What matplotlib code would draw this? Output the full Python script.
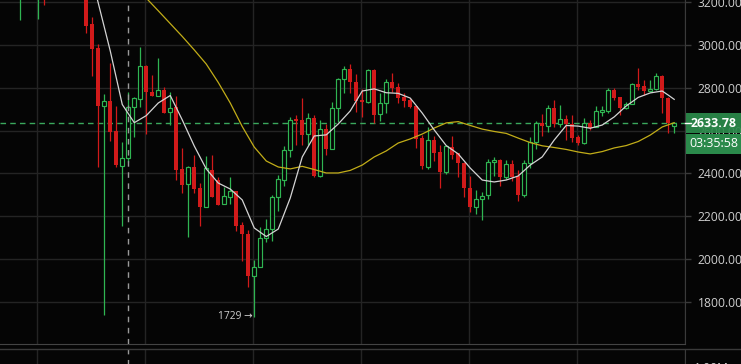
import numpy as np
import matplotlib
matplotlib.use("Agg")
import matplotlib.pyplot as plt
from matplotlib.patches import Rectangle
from matplotlib.lines import Line2D

# ---------------- data ----------------
opens = [3330, 3360, 3320, 3290, 3340, 3400, 3380, 3440, 3300, 3280, 3340, 3310, 3330, 3270,
         3250, 3098, 2986, 2716, 2738, 2598, 2436, 2471, 2709, 2749, 2902, 2782, 2763, 2788,
         2685, 2709, 2420, 2349, 2428, 2333, 2244, 2416, 2369, 2256, 2291, 2318, 2159, 2117,
         1922, 1964, 2097, 2139, 2288, 2369, 2509, 2654, 2650, 2584, 2657, 2388, 2607, 2513,
         2704, 2840, 2886, 2829, 2743, 2735, 2883, 2676, 2730, 2826, 2802, 2758, 2743, 2715,
         2564, 2431, 2556, 2501, 2408, 2525, 2494, 2447, 2330, 2244, 2279, 2299, 2452, 2463,
         2382, 2444, 2388, 2299, 2447, 2548, 2634, 2621, 2704, 2631, 2653, 2631, 2569, 2541,
         2634, 2618, 2688, 2693, 2790, 2756, 2704, 2724, 2818, 2808, 2786, 2794, 2855, 2751,
         2621]
highs = [3390, 3410, 3350, 3360, 3420, 3450, 3470, 3480, 3340, 3360, 3380, 3350, 3360, 3300,
         3280, 3132, 3006, 2770, 2917, 2715, 2545, 2782, 2757, 2989, 2907, 2860, 2938, 2802,
         2779, 2762, 2517, 2436, 2485, 2354, 2481, 2485, 2385, 2338, 2382, 2318, 2174, 2136,
         1995, 2151, 2186, 2299, 2392, 2528, 2665, 2673, 2751, 2681, 2673, 2650, 2631, 2735,
         2844, 2902, 2911, 2864, 2793, 2886, 2886, 2777, 2840, 2868, 2821, 2777, 2754, 2715,
         2579, 2618, 2575, 2533, 2533, 2575, 2497, 2455, 2388, 2322, 2314, 2466, 2478, 2466,
         2463, 2463, 2416, 2463, 2569, 2646, 2678, 2720, 2743, 2720, 2673, 2673, 2579, 2657,
         2650, 2715, 2715, 2800, 2800, 2756, 2735, 2824, 2891, 2836, 2836, 2871, 2860, 2758,
         2637]
lows = [3280, 3300, 3250, 3118, 3310, 3350, 3123, 3188, 3240, 3260, 3290, 3260, 3240, 3220,
        3055, 2857, 2431, 1738, 2553, 2431, 2156, 2452, 2569, 2709, 2583, 2763, 2763, 2681,
        2626, 2369, 2310, 2104, 2307, 2154, 2244, 2291, 2252, 2256, 2256, 2132, 1992, 1871,
        1729, 1964, 2081, 2086, 2226, 2341, 2478, 2533, 2533, 2533, 2382, 2382, 2486, 2513,
        2642, 2774, 2777, 2688, 2665, 2728, 2637, 2646, 2684, 2782, 2730, 2709, 2704, 2517,
        2419, 2419, 2459, 2330, 2397, 2466, 2382, 2291, 2221, 2210, 2182, 2279, 2388, 2341,
        2373, 2366, 2273, 2288, 2424, 2513, 2575, 2595, 2618, 2618, 2556, 2548, 2533, 2537,
        2603, 2615, 2668, 2681, 2743, 2673, 2700, 2724, 2790, 2766, 2782, 2790, 2684, 2590,
        2590]
closes = [3360, 3320, 3290, 3340, 3400, 3380, 3440, 3300, 3280, 3340, 3310, 3330, 3270, 3250,
          3090, 2981, 2715, 2737, 2595, 2439, 2470, 2709, 2751, 2902, 2782, 2763, 2788, 2684,
          2707, 2416, 2346, 2428, 2327, 2244, 2424, 2291, 2252, 2293, 2318, 2156, 2115, 1922,
          1964, 2097, 2139, 2291, 2372, 2509, 2650, 2645, 2579, 2657, 2388, 2606, 2513, 2704,
          2840, 2886, 2829, 2740, 2735, 2883, 2673, 2730, 2826, 2800, 2754, 2738, 2712, 2559,
          2435, 2556, 2497, 2408, 2528, 2486, 2447, 2330, 2244, 2279, 2294, 2455, 2463, 2382,
          2443, 2385, 2299, 2447, 2548, 2634, 2621, 2704, 2631, 2653, 2631, 2564, 2541, 2634,
          2611, 2692, 2696, 2790, 2751, 2704, 2724, 2818, 2805, 2786, 2794, 2855, 2751, 2634,
          2633.78]

ma_fast_idx = [14, 16, 18, 20, 22, 24, 26, 28, 30, 32, 34, 36, 38, 40, 42, 44, 46, 48, 50,
               52, 54, 56, 58, 60, 62, 64, 66, 68, 70, 72, 74, 76, 78, 80, 82, 84, 86, 88,
               90, 92, 94, 96, 98, 100, 102, 104, 106, 108, 110, 111, 112]
ma_fast = [3420, 3196, 2972, 2722, 2637, 2670, 2729, 2764, 2650, 2528, 2421, 2355, 2327,
           2276, 2145, 2105, 2140, 2285, 2477, 2575, 2580, 2631, 2692, 2785, 2795, 2777,
           2774, 2752, 2682, 2603, 2530, 2491, 2425, 2369, 2360, 2369, 2388, 2439, 2477,
           2556, 2624, 2621, 2611, 2626, 2664, 2715, 2755, 2776, 2785, 2766, 2746]

ma_slow_idx = [20, 22, 24, 26, 28, 30, 32, 34, 36, 38, 40, 42, 44, 46, 48, 50, 52, 54, 56,
               58, 60, 62, 64, 66, 68, 70, 72, 74, 76, 78, 80, 82, 84, 86, 88, 90, 92, 94,
               96, 98, 100, 102, 104, 106, 108, 110, 112]
ma_slow = [3341, 3280, 3219, 3160, 3100, 3040, 2977, 2911, 2825, 2729, 2619, 2523, 2458,
           2430, 2421, 2433, 2418, 2402, 2402, 2414, 2439, 2477, 2505, 2542, 2561, 2584,
           2612, 2636, 2642, 2624, 2607, 2596, 2587, 2565, 2544, 2529, 2521, 2512, 2500,
           2491, 2502, 2519, 2530, 2549, 2579, 2617, 2637]

price_ticks = [1800, 2000, 2200, 2400, 2600, 2800, 3000, 3200]
countdown = "03:35:58"
volume_label = "1.00M"

# ---------------- style ----------------
W, H = 741, 364
BG = "#050505"
GRID = "#242424"
UP = "#2fb552"
DOWN = "#d11a1a"
TXT = "#cfcfcf"
FONT = ["Open Sans", "DejaVu Sans"]

fig = plt.figure(figsize=(W / 100, H / 100), dpi=100, facecolor=BG)

pane_bottom_px = 344
ax = fig.add_axes([0, 1 - pane_bottom_px / H, 685 / W, pane_bottom_px / H])
ax.set_facecolor(BG)

n = len(opens)
x = np.arange(n)
o = np.array(opens, float); hi = np.array(highs, float)
lo = np.array(lows, float); c = np.array(closes, float)
up = c >= o

ax.set_xlim(-0.38, 113.8)
ax.set_ylim(1602.8, 3210.3)

# grid
vgrid = np.arange(5.78, 114, 18)
for g in vgrid:
    ax.axvline(g, color=GRID, lw=1.0, zorder=0)
for t in price_ticks:
    ax.axhline(t, color=GRID, lw=1.0, zorder=0)

# wicks
ax.vlines(x[up], lo[up], hi[up], color=UP, lw=0.9, zorder=2)
ax.vlines(x[~up], lo[~up], hi[~up], color=DOWN, lw=0.9, zorder=2)

# bodies
minh = 4.0
bh = np.maximum(np.abs(c - o), minh)
bb = np.minimum(o, c)
ax.bar(x[~up], bh[~up], bottom=bb[~up], width=0.72, color=DOWN, lw=0, zorder=3)
ax.bar(x[up], bh[up], bottom=bb[up], width=0.6, facecolor=BG, edgecolor=UP,
       lw=0.85, zorder=3)

# moving averages
ax.plot(ma_slow_idx, ma_slow, color="#c2ad18", lw=0.9, zorder=4)
ax.plot(ma_fast_idx, ma_fast, color="#d4d4d4", lw=0.9, zorder=5)

# last price line
last = c[-1]
ax.axhline(last, color="#3aa85c", lw=1.0, ls=(0, (4, 3)), zorder=1)

# crosshair
ax.axvline(20.9, color="#9a9a9a", lw=1.0, ls=(0, (4, 4)), zorder=6)

# low annotation
imin = int(np.argmin(lo[14:])) + 14
ax.annotate(f"{lo[imin]:.0f} \u2192", xy=(imin, lo[imin]), xytext=(-1.5, 0),
            textcoords="offset points", ha="right", va="center",
            color=TXT, fontsize=7.4, family=FONT, zorder=7)

# axes
for s in ["top", "left"]:
    ax.spines[s].set_visible(False)
ax.spines["right"].set_color("#3a3a3a")
ax.spines["bottom"].set_color("#444444")
ax.set_xticks([])
ax.yaxis.tick_right()
ax.set_yticks(price_ticks)
ax.set_yticklabels([f"{t:.2f}" for t in price_ticks])
ax.tick_params(axis="y", colors="#3a3a3a", labelcolor=TXT, length=4, width=1,
               pad=5, labelsize=8.7)
for lab in ax.get_yticklabels():
    lab.set_family(FONT)

# lower pane
ax2 = fig.add_axes([0, -0.2, 685 / W, 0.2 + (H - 349) / H], sharex=ax)
ax2.set_facecolor(BG)
for g in vgrid:
    ax2.axvline(g, color=GRID, lw=1.0, zorder=0)
ax2.axvline(20.9, color="#9a9a9a", lw=1.0, ls=(0, (4, 4)), zorder=6)
for s in ["top", "left", "bottom"]:
    ax2.spines[s].set_visible(False)
ax2.spines["right"].set_color("#3a3a3a")
ax2.set_yticks([])
ax2.tick_params(axis="x", length=0, labelbottom=False)
fig.add_artist(Line2D([0, 1], [1 - 349 / H] * 2, color="#3a3a3a", lw=1.0,
                      transform=fig.transFigure))
fig.text(694 / W, 1 - 368 / H, volume_label, color=TXT, fontsize=8.7,
         family=FONT, va="center", ha="left")

# price label boxes
y_last = ax.transData.transform((0, last))[1]
box_h = 20
fig.add_artist(Rectangle((686 / W, (y_last - box_h / 2) / H), 55 / W, box_h / H,
                         transform=fig.transFigure, facecolor="#2b8a4b",
                         edgecolor="none", alpha=0.93, zorder=10))
fig.text(713.5 / W, y_last / H, f"{last:.2f}", color="white", fontsize=8.9,
         family=FONT, fontweight="bold", ha="center", va="center", zorder=11)
fig.add_artist(Rectangle((686 / W, (y_last - box_h / 2 - 21) / H), 55 / W, 20.5 / H,
                         transform=fig.transFigure, facecolor="#2b8a4b",
                         edgecolor="none", zorder=10))
fig.text(713.5 / W, (y_last - box_h / 2 - 10.5) / H, countdown, color="white",
         fontsize=8.9, family=FONT, ha="center", va="center", zorder=11)
fig.add_artist(Line2D([685 / W, 691 / W], [y_last / H] * 2, color="white", lw=1,
                      transform=fig.transFigure, zorder=12))

fig.savefig("out.png", dpi=100, facecolor=BG)
